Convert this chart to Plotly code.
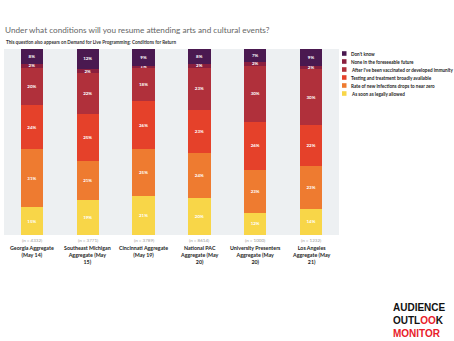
import plotly.graph_objects as go

categories = [
    "Georgia Aggregate<br>(May 14)",
    "Southeast Michigan<br>Aggregate (May<br>15)",
    "Cincinnati Aggregate<br>(May 19)",
    "National PAC<br>Aggregate (May<br>20)",
    "University Presenters<br>Aggregate (May<br>20)",
    "Los Angeles<br>Aggregate (May<br>21)",
]
n_labels = ["(n = 4332)", "(n = 3771)", "(n = 3789)", "(n = 8614)", "(n = 1000)", "(n = 1232)"]

series_names = [
    "As soon as legally allowed",
    "Rate of new infections drops to near zero",
    "Testing and treatment broadly available",
    "After I've been vaccinated or developed immunity",
    "None in the foreseeable future",
    "Don't know",
]
legally_allowed = [15, 19, 21, 20, 12, 14]
infections_zero = [31, 21, 25, 24, 23, 23]
testing = [24, 25, 26, 23, 26, 22]
vaccinated = [20, 22, 18, 23, 30, 30]
none_future = [2, 2, 1, 2, 2, 2]
dont_know = [8, 12, 9, 8, 7, 9]

series_values = [legally_allowed, infections_zero, testing, vaccinated, none_future, dont_know]
colors = ["#f8d648", "#ee7b30", "#e5412a", "#b0303b", "#8a1f3e", "#4a1950"]

W, H = 454, 341
L, R, T, B = 4, 339, 49, 235


def px_x(x):
    return (x - L) / (R - L)


def px_y(y):
    return (B - y) / (B - T)


fig = go.Figure()
xs = list(range(len(categories)))
for name, vals, col in zip(series_names, series_values, colors):
    fig.add_trace(go.Bar(
        x=xs, y=vals, name=name, marker=dict(color=col, line=dict(width=0)),
        width=0.4,
        text=[f"<b>{v}%</b>" for v in vals], textposition="inside",
        insidetextanchor="middle", textangle=0,
        textfont=dict(color="white", size=4.5, family="Lato"),
        showlegend=False,
    ))

annotations = []
for i, (cat, nl) in enumerate(zip(categories, n_labels)):
    annotations.append(dict(x=i, y=px_y(236), xref="x", yref="paper", text=nl,
                            showarrow=False, yanchor="top",
                            font=dict(size=4.5, color="#999999", family="Lato")))
    annotations.append(dict(x=i, y=px_y(243), xref="x", yref="paper", text=f"<b>{cat}</b>",
                            showarrow=False, yanchor="top", align="center",
                            font=dict(size=5.3, color="#222222", family="Lato")))

# manual legend (top item first)
shapes = []
legend_items = list(zip(series_names, colors))[::-1]
for k, (name, col) in enumerate(legend_items):
    yc = 53.5 + k * 8
    shapes.append(dict(type="rect", xref="paper", yref="paper",
                       x0=px_x(342), x1=px_x(346.5), y0=px_y(yc + 2.3), y1=px_y(yc - 2.3),
                       fillcolor=col, line=dict(width=0)))
    annotations.append(dict(x=px_x(349), y=px_y(yc), xref="paper", yref="paper",
                            xanchor="left", yanchor="middle", showarrow=False,
                            text=f"<b>{name}</b>",
                            font=dict(size=4.6, color="#222222", family="Lato")))

annotations += [
    dict(x=px_x(3), y=px_y(30), xref="paper", yref="paper", xanchor="left", yanchor="middle",
         text="Under what conditions will you resume attending arts and cultural events?",
         showarrow=False, font=dict(size=8.2, color="#666666", family="Lato")),
    dict(x=px_x(4), y=px_y(42), xref="paper", yref="paper", xanchor="left", yanchor="middle",
         text="<b>This question also appears on Demand for Live Programming: Conditions for Return</b>",
         showarrow=False, font=dict(size=4.6, color="#333333", family="Lato")),
    dict(x=px_x(391), y=px_y(300), xref="paper", yref="paper", xanchor="left", yanchor="top",
         align="left",
         text="<b>AUDIENCE<br>OUTL<span style='color:#e8202a'>OO</span>K<br><span style='color:#e8202a'>MONITOR</span></b>",
         showarrow=False, font=dict(size=10, color="#111111", family="Liberation Sans")),
]

fig.update_layout(
    width=W, height=H,
    margin=dict(l=L, r=W - R, t=T, b=H - B),
    barmode="stack",
    bargap=0.6,
    plot_bgcolor="#edf0f2",
    paper_bgcolor="white",
    showlegend=False,
    uniformtext=dict(minsize=4.5, mode="show"),
    xaxis=dict(range=[-0.5, 5.5], showticklabels=False, showgrid=False, zeroline=False,
               fixedrange=True),
    yaxis=dict(range=[0, 100], showticklabels=False, showgrid=False, zeroline=False,
               fixedrange=True),
    annotations=annotations,
    shapes=shapes,
    font=dict(family="Lato"),
)

fig.write_html("out.html")
